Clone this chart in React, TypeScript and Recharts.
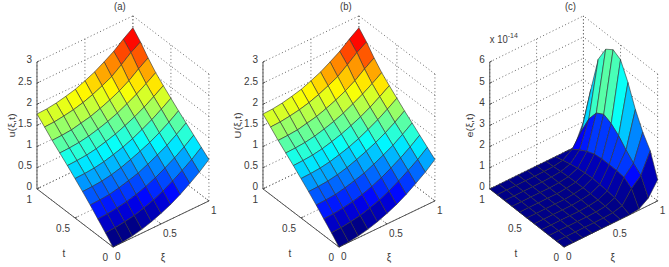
import { Scatter, ScatterChart, XAxis, YAxis } from "recharts"

const xiValues = [0, 0.1, 0.2, 0.3, 0.4, 0.5, 0.6, 0.7, 0.8, 0.9, 1]
const tValues = [0, 0.1, 0.2, 0.3, 0.4, 0.5, 0.6, 0.7, 0.8, 0.9, 1]
const xiTicks = [0, 0.5, 1]
const tTicks = [0, 0.5, 1]
const uTicks = [0, 0.5, 1, 1.5, 2, 2.5, 3]
const eTicks = [0, 1, 2, 3, 4, 5, 6]

// one row per t, one column per xi
const uRows = [
  [0, 0.01, 0.04, 0.09, 0.16, 0.25, 0.35, 0.48, 0.63, 0.79, 0.98],
  [0.2, 0.21, 0.24, 0.28, 0.35, 0.43, 0.53, 0.66, 0.8, 0.95, 1.13],
  [0.39, 0.4, 0.43, 0.47, 0.53, 0.61, 0.71, 0.83, 0.96, 1.11, 1.28],
  [0.58, 0.59, 0.61, 0.66, 0.72, 0.79, 0.89, 1.0, 1.12, 1.27, 1.43],
  [0.76, 0.77, 0.79, 0.83, 0.89, 0.97, 1.06, 1.16, 1.28, 1.42, 1.58],
  [0.93, 0.94, 0.96, 1.0, 1.06, 1.13, 1.22, 1.33, 1.45, 1.59, 1.74],
  [1.1, 1.11, 1.13, 1.17, 1.23, 1.3, 1.39, 1.49, 1.61, 1.75, 1.9],
  [1.26, 1.27, 1.29, 1.33, 1.39, 1.46, 1.55, 1.66, 1.78, 1.92, 2.07],
  [1.42, 1.43, 1.45, 1.5, 1.55, 1.63, 1.72, 1.83, 1.96, 2.13, 2.28],
  [1.6, 1.61, 1.64, 1.68, 1.74, 1.82, 1.92, 2.03, 2.2, 2.38, 2.52],
  [1.77, 1.78, 1.81, 1.86, 1.92, 2.01, 2.11, 2.24, 2.38, 2.56, 2.72],
]

// error surface, in units of 1e-14
const eRows = [
  [0, 0, 0, 0, 0, 0, 0, 0, 0.05, 0.35, 1.0],
  [0, 0, 0, 0, 0, 0.01, 0.04, 0.15, 0.75, 1.15, 2.1],
  [0, 0, 0, 0, 0, 0.02, 0.07, 0.25, 1.0, 1.45, 2.7],
  [0, 0, 0, 0, 0, 0.03, 0.09, 0.3, 1.05, 1.8, 3.5],
  [0, 0, 0, 0, 0, 0.04, 0.11, 0.33, 1.05, 2.2, 4.5],
  [0, 0, 0, 0, 0, 0.04, 0.12, 0.35, 1.05, 2.5, 5.3],
  [0, 0, 0, 0, 0, 0.04, 0.11, 0.33, 1.0, 2.66, 5.5],
  [0, 0, 0, 0, 0, 0.03, 0.09, 0.28, 0.85, 2.45, 5.25],
  [0, 0, 0, 0, 0, 0.02, 0.06, 0.2, 0.65, 1.9, 4.5],
  [0, 0, 0, 0, 0, 0.01, 0.03, 0.1, 0.4, 1.05, 2.8],
  [0, 0, 0, 0, 0, 0, 0, 0, 0, 0, 1.0],
]

const HEIGHT = 267
const ORIGIN_Y = 247
const KY = 147
const AZ = (-38.4 * Math.PI) / 180
const EL = (30.3 * Math.PI) / 180
const FONT = "'Liberation Sans', Arial, sans-serif"
const TEXT_COLOR = "#3a3a3a"

type Pt = { vx: number; vy: number }
type Note = Pt & { text: string; dx: number; dy: number; anchor: string; rotate?: boolean; size?: number; sup?: string }

function project(xi: number, t: number, z: number): Pt {
  return {
    vx: Math.cos(AZ) * xi + Math.sin(AZ) * t,
    vy: -Math.sin(AZ) * Math.sin(EL) * xi + Math.cos(AZ) * Math.sin(EL) * t + Math.cos(EL) * z,
  }
}

function jet(v: number) {
  const level = (Math.min(63, Math.floor(Math.max(0, v) * 64)) + 0.5) / 64
  const c = (d: number) => Math.round(255 * Math.max(0, Math.min(1, 1.5 - Math.abs(4 * level - d))))
  return `rgb(${c(3)},${c(2)},${c(1)})`
}

type PanelProps = {
  left: number
  width: number
  originX: number
  kx: number
  rows: number[][]
  zTicks: number[]
  cMax: number
  title: string
  zLabel: string
  exponent?: string
}

function SurfacePanel({ left, width, originX, kx, rows, zTicks, cMax, title, zLabel, exponent }: PanelProps) {
  const zTop = zTicks[zTicks.length - 1]

  // quads, far ones first so the near ones paint over them
  const quads: { color: string; depth: number; corners: Pt[] }[] = []
  for (let j = 0; j < tValues.length - 1; j++) {
    for (let i = 0; i < xiValues.length - 1; i++) {
      const at = (a: number, b: number) => project(xiValues[a], tValues[b], rows[b][a] / zTop)
      quads.push({
        color: jet(rows[j][i] / cMax),
        depth: -Math.sin(AZ) * xiValues[i] + Math.cos(AZ) * tValues[j],
        corners: [at(i, j), at(i + 1, j), at(i + 1, j + 1), at(i, j + 1)],
      })
    }
  }
  quads.sort((a, b) => b.depth - a.depth)
  const quadPoints = quads.flatMap((q) => q.corners)

  const gridPoints: Pt[] = []
  xiTicks.forEach((x) => {
    gridPoints.push(project(x, 0, 0), project(x, 1, 0))
    gridPoints.push(project(x, 1, 0), project(x, 1, 1))
  })
  tTicks.forEach((t) => {
    gridPoints.push(project(0, t, 0), project(1, t, 0))
    gridPoints.push(project(1, t, 0), project(1, t, 1))
  })
  zTicks.forEach((z) => {
    gridPoints.push(project(0, 1, z / zTop), project(1, 1, z / zTop))
    gridPoints.push(project(1, 0, z / zTop), project(1, 1, z / zTop))
  })

  const axisPoints: Pt[] = [
    project(0, 0, 0), project(1, 0, 0),
    project(0, 0, 0), project(0, 1, 0),
    project(0, 1, 0), project(0, 1, 1),
  ]
  xiTicks.forEach((x) => axisPoints.push(project(x, 0, 0), project(x, 0.025, 0)))
  tTicks.forEach((t) => axisPoints.push(project(0, t, 0), project(0.025, t, 0)))
  zTicks.forEach((z) => axisPoints.push(project(0, 1, z / zTop), project(0.025, 1, z / zTop)))

  const notes: Note[] = [
    ...zTicks.map((z) => ({ ...project(0, 1, z / zTop), text: String(z), dx: -5, dy: 1.5, anchor: "end" })),
    ...tTicks.map((t) => ({ ...project(0, t, 0), text: String(t), dx: -5, dy: 14, anchor: "end" })),
    ...xiTicks.map((x) => ({ ...project(x, 0, 0), text: String(x), dx: 2, dy: 13, anchor: "start" })),
    { ...project(0, 0.5, 0), text: "t", dx: -11, dy: 39, anchor: "middle" },
    { ...project(0.5, 0, 0), text: "ξ", dx: 2, dy: 37, anchor: "middle" },
    { ...project(1, 1, 1), text: title, dx: -13, dy: -6, anchor: "middle", size: 9.5 },
    { ...project(0, 1, 0.5), text: zLabel, dx: exponent ? -17 : -22, dy: 0, anchor: "middle", rotate: true, size: 9.5 },
  ]
  if (exponent) {
    notes.push({ ...project(0, 1, 1), text: "x 10", dx: 0, dy: -19, anchor: "start", size: 9.5, sup: exponent })
  }

  const drawQuads = (p: any) => (
    <g>
      {quads.map((q, n) => (
        <polygon
          key={n}
          points={p.points.slice(n * 4, n * 4 + 4).map((c: any) => `${c.x},${c.y}`).join(" ")}
          fill={q.color}
          stroke="#303030"
          strokeWidth={0.6}
        />
      ))}
    </g>
  )

  const drawSegments = (stroke: string, dash?: string) => (p: any) => (
    <g>
      {p.points.map((c: any, n: number) =>
        n % 2 === 0 ? (
          <line
            key={n}
            x1={c.x}
            y1={c.y}
            x2={p.points[n + 1].x}
            y2={p.points[n + 1].y}
            stroke={stroke}
            strokeWidth={1}
            strokeDasharray={dash}
          />
        ) : null,
      )}
    </g>
  )

  // the picture is stretched upwards, so the glyphs are too
  const drawNote = (p: any) => {
    const note: Note = p.payload
    const x = p.cx + note.dx
    const y = p.cy + note.dy
    return (
      <text
        textAnchor={note.anchor as any}
        fontFamily={FONT}
        fontSize={note.size ?? 10}
        fill={TEXT_COLOR}
        transform={`translate(${x} ${y}) scale(1 1.15)${note.rotate ? " rotate(-90)" : ""}`}
      >
        {note.text}
        {note.sup ? (
          <tspan dy={-4} fontSize={7}>
            {note.sup}
          </tspan>
        ) : null}
      </text>
    )
  }

  return (
    <div style={{ position: "absolute", left, top: 0 }}>
      <ScatterChart width={width} height={HEIGHT} margin={{ top: 0, right: 0, bottom: 0, left: 0 }}>
        <XAxis
          type="number"
          dataKey="vx"
          hide
          allowDataOverflow
          domain={[-originX / kx, (width - originX) / kx]}
        />
        <YAxis
          type="number"
          dataKey="vy"
          hide
          allowDataOverflow
          domain={[-(HEIGHT - ORIGIN_Y) / KY, ORIGIN_Y / KY]}
        />
        <Scatter data={gridPoints} isAnimationActive={false} shape={() => <g />} line={drawSegments("#666", "1 2.5")} />
        <Scatter data={axisPoints} isAnimationActive={false} shape={() => <g />} line={drawSegments("#555")} />
        <Scatter data={quadPoints} isAnimationActive={false} shape={() => <g />} line={drawQuads} />
        <Scatter data={notes} isAnimationActive={false} shape={drawNote} />
      </ScatterChart>
    </div>
  )
}

export default function App() {
  return (
    <div style={{ position: "absolute", left: 0, top: 0, width: 669, height: HEIGHT, background: "#fff", overflow: "hidden" }}>
      <SurfacePanel left={0} width={225} originX={113} kx={122.4} rows={uRows} zTicks={uTicks} cMax={2.72} title="(a)" zLabel="u(ξ,t)" />
      <SurfacePanel left={225} width={220} originX={114} kx={122.4} rows={uRows} zTicks={uTicks} cMax={2.72} title="(b)" zLabel="U(ξ,t)" />
      <SurfacePanel left={445} width={224} originX={119} kx={119.5} rows={eRows} zTicks={eTicks} cMax={5.7} title="(c)" zLabel="e(ξ,t)" exponent="-14" />
    </div>
  )
}
